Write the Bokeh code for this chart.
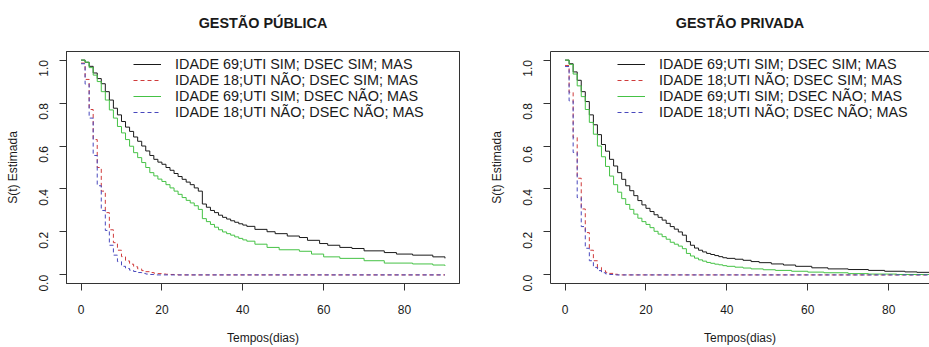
import math
from bokeh.plotting import figure
from bokeh.layouts import row
from bokeh.models import Range1d, FixedTicker, Legend, LegendItem, LinearAxis
from bokeh.embed import file_html
from bokeh.resources import INLINE

FONT = "Liberation Sans"

# ---------------- data ----------------
x_ticks = [0, 20, 40, 60, 80]
y_ticks = [0.0, 0.2, 0.4, 0.6, 0.8, 1.0]
y_tick_labels = ["0.0", "0.2", "0.4", "0.6", "0.8", "1.0"]

labels = ["IDADE 69;UTI SIM; DSEC SIM; MAS",
          "IDADE 18;UTI NÃO; DSEC SIM; MAS",
          "IDADE 69;UTI SIM; DSEC NÃO; MAS",
          "IDADE 18;UTI NÃO; DSEC NÃO; MAS"]

titles = ["GESTÃO PÚBLICA", "GESTÃO PRIVADA"]

# Gestão pública
pub_t1 = [0, 1, 2, 3, 4, 5, 6, 7, 8, 9, 10, 11, 12, 13, 14, 15, 16, 17, 18, 19, 20,
          21, 22, 23, 24, 25, 26, 27, 28, 29, 30, 31, 32, 33, 34, 35, 36, 37, 38, 39, 40, 41,
          43, 46, 48, 51, 54, 56, 59, 61, 64, 67, 70, 75, 78, 82, 87, 90]
pub_s1 = [1.0, 0.99, 0.971, 0.94, 0.914, 0.89, 0.853, 0.814, 0.776, 0.745, 0.714, 0.688,
          0.668, 0.642, 0.622, 0.60, 0.577, 0.556, 0.538, 0.525, 0.515, 0.50, 0.487, 0.472,
          0.458, 0.445, 0.432, 0.42, 0.405, 0.39, 0.33, 0.315, 0.30, 0.29, 0.278, 0.268,
          0.26, 0.252, 0.245, 0.238, 0.232, 0.226,
          0.212, 0.201, 0.192, 0.181, 0.174, 0.161, 0.146, 0.138, 0.128, 0.123, 0.112,
          0.104, 0.097, 0.092, 0.084, 0.077]

pub_t2 = [0, 1, 2, 3, 4, 5, 6, 7, 8, 9, 10, 11, 12, 13, 14, 15, 16, 17, 18, 19, 20,
          21, 22, 23, 24, 90]
pub_s2 = [0.986, 0.91, 0.77, 0.63, 0.50, 0.39, 0.29, 0.21, 0.15, 0.115, 0.085, 0.065,
          0.05, 0.038, 0.028, 0.02, 0.015, 0.011, 0.008, 0.006, 0.004, 0.003, 0.002,
          0.001, 0.0, 0.0]

pub_t3 = [0, 1, 2, 3, 4, 5, 6, 7, 8, 9, 10, 11, 12, 13, 14, 15, 16, 17, 18, 19, 20,
          21, 22, 23, 24, 25, 26, 27, 28, 29, 30, 31, 32, 33, 34, 35, 36, 37, 38, 39, 40, 41,
          43, 46, 49, 54, 57, 60, 64, 70, 75, 82, 87, 90]
pub_s3 = [1.0, 0.99, 0.965, 0.93, 0.90, 0.853, 0.814, 0.768, 0.73, 0.691, 0.661, 0.63,
          0.599, 0.569, 0.546, 0.523, 0.50, 0.476, 0.461, 0.446, 0.435, 0.42, 0.405, 0.39,
          0.375, 0.36, 0.347, 0.335, 0.322, 0.305, 0.262, 0.248, 0.235, 0.222, 0.21, 0.20,
          0.192, 0.185, 0.177, 0.17, 0.163, 0.157,
          0.143, 0.128, 0.117, 0.110, 0.097, 0.084, 0.077, 0.066, 0.055, 0.051, 0.046, 0.042]

pub_t4 = [0, 1, 2, 3, 4, 5, 6, 7, 8, 9, 10, 11, 12, 13, 14, 15, 16, 17, 18, 90]
pub_s4 = [0.983, 0.888, 0.73, 0.556, 0.415, 0.30, 0.207, 0.138, 0.092, 0.062, 0.04,
          0.03, 0.022, 0.016, 0.011, 0.007, 0.004, 0.002, 0.0, 0.0]

# Gestão privada
pri_t1 = [0, 1, 2, 3, 4, 5, 6, 7, 8, 9, 10, 11, 12, 13, 14, 15, 16, 17, 18, 19, 20,
          21, 22, 23, 24, 25, 26, 27, 28, 29, 30, 31, 32, 33, 34, 35, 36, 37, 38, 39, 40,
          42, 44, 46, 48, 51, 54, 57, 61, 65, 70, 75, 79, 84, 87, 90]
pri_s1 = [1.0, 0.983, 0.945, 0.906, 0.853, 0.807, 0.745, 0.699, 0.653, 0.607, 0.576,
          0.538, 0.507, 0.476, 0.445, 0.415, 0.392, 0.369, 0.346, 0.326, 0.31, 0.295,
          0.28, 0.268, 0.255, 0.24, 0.225, 0.213, 0.2, 0.185, 0.155, 0.138, 0.125, 0.115,
          0.107, 0.1, 0.095, 0.09, 0.085, 0.08, 0.077,
          0.073, 0.068, 0.062, 0.057, 0.051, 0.046, 0.04, 0.033, 0.028, 0.025, 0.021,
          0.017, 0.014, 0.012, 0.012]

pri_t2 = [0, 1, 2, 3, 4, 5, 6, 7, 8, 9, 10, 11, 12, 13, 90]
pri_s2 = [0.975, 0.85, 0.64, 0.45, 0.307, 0.197, 0.115, 0.066, 0.035, 0.02, 0.012,
          0.007, 0.003, 0.0, 0.0]

pri_t3 = [0, 1, 2, 3, 4, 5, 6, 7, 8, 9, 10, 11, 12, 13, 14, 15, 16, 17, 18, 19, 20,
          21, 22, 23, 24, 25, 26, 27, 28, 29, 30, 31, 32, 33, 34, 35, 36, 37, 38, 39, 40,
          42, 44, 46, 49, 52, 56, 60, 64, 70, 75, 82, 90]
pri_s3 = [1.0, 0.98, 0.935, 0.88, 0.83, 0.77, 0.71, 0.655, 0.60, 0.55, 0.505, 0.46,
          0.42, 0.385, 0.355, 0.328, 0.305, 0.283, 0.264, 0.248, 0.235, 0.22, 0.203,
          0.19, 0.178, 0.166, 0.152, 0.143, 0.134, 0.122, 0.10, 0.088, 0.078, 0.07,
          0.064, 0.058, 0.054, 0.05, 0.047, 0.043, 0.04,
          0.036, 0.032, 0.028, 0.024, 0.021, 0.017, 0.013, 0.01, 0.006, 0.004, 0.002, 0.002]

pri_t4 = [0, 1, 2, 3, 4, 5, 6, 7, 8, 9, 10, 11, 12, 90]
pri_s4 = [0.97, 0.81, 0.57, 0.36, 0.225, 0.124, 0.066, 0.035, 0.02, 0.01, 0.005,
          0.002, 0.0, 0.0]

# ---------------- styles ----------------
colors = ["#1a1a1a", "#cf3b3b", "#45c245", "#4848bd"]
dashes = ["solid", "4 3", "solid", "4 3"]
AX = "#333333"
TXT = "#1a1a1a"


def style_axis(ax, ticks):
    ax.ticker = FixedTicker(ticks=ticks)
    ax.axis_line_color = AX
    ax.major_tick_line_color = AX
    ax.major_tick_out = 7
    ax.major_tick_in = 0
    ax.minor_tick_line_color = None
    ax.major_label_text_font = FONT
    ax.major_label_text_font_size = "12px"
    ax.major_label_text_color = TXT
    ax.axis_label_text_font = FONT
    ax.axis_label_text_font_size = "12px"
    ax.axis_label_text_font_style = "normal"
    ax.axis_label_text_color = TXT


def make_panel(title, curves, width, b_left, b_right, x_end, full_box):
    p = figure(width=width, height=347, output_backend="svg", toolbar_location=None,
               x_range=Range1d(-3.6, x_end), y_range=Range1d(-0.04, 1.04),
               min_border_left=b_left, min_border_right=b_right,
               min_border_top=51, min_border_bottom=60, title=None)
    p.grid.visible = False
    p.background_fill_color = "white"
    p.border_fill_color = "white"

    xa = p.xaxis[0]
    ya = p.yaxis[0]
    style_axis(xa, x_ticks)
    style_axis(ya, y_ticks)
    xa.axis_label = "Tempos(dias)"
    ya.axis_label = "S(t) Estimada"
    ya.major_label_overrides = {t: l for t, l in zip(y_ticks, y_tick_labels)}
    ya.major_label_orientation = math.pi / 2
    xa.major_label_standoff = 14
    ya.major_label_standoff = 16
    xa.axis_label_standoff = 14
    ya.axis_label_standoff = 12

    if full_box:
        p.outline_line_color = AX
        p.outline_line_width = 1
    else:
        p.outline_line_color = None

    # top edge of the box, carrying the panel title as its label
    top = LinearAxis(ticker=FixedTicker(ticks=[]), major_tick_out=0, major_tick_in=0,
                     minor_tick_out=0, minor_tick_in=0, major_label_standoff=0,
                     major_label_text_font_size="0px", axis_line_color=AX,
                     major_tick_line_color=None, axis_label=title,
                     axis_label_standoff=21, axis_label_text_font=FONT,
                     axis_label_text_font_size="14.4px", axis_label_text_font_style="bold",
                     axis_label_text_color=TXT)
    p.add_layout(top, "above")

    items = []
    for (t, s), lab, c, d in zip(curves, labels, colors, dashes):
        r = p.step(t, s, mode="after", line_color=c, line_width=1, line_dash=d)
        items.append(LegendItem(label=lab, renderers=[r]))

    leg = Legend(items=items, location=(67, 163), orientation="vertical",
                 glyph_width=28, glyph_height=16, label_height=16, label_standoff=14,
                 spacing=0, padding=0, margin=0,
                 border_line_color=None, background_fill_alpha=0,
                 label_text_font=FONT, label_text_font_size="14.4px",
                 label_text_color=TXT)
    p.add_layout(leg)
    return p


p1 = make_panel(titles[0],
                [(pub_t1, pub_s1), (pub_t2, pub_s2), (pub_t3, pub_s3), (pub_t4, pub_s4)],
                464, 66, 5, 93.6, True)
p2 = make_panel(titles[1],
                [(pri_t1, pri_s1), (pri_t2, pri_s2), (pri_t3, pri_s3), (pri_t4, pri_s4)],
                465, 86, 0, 90.1, False)

layout = row(p1, p2)
open("out.html", "w").write(file_html(layout, INLINE))
